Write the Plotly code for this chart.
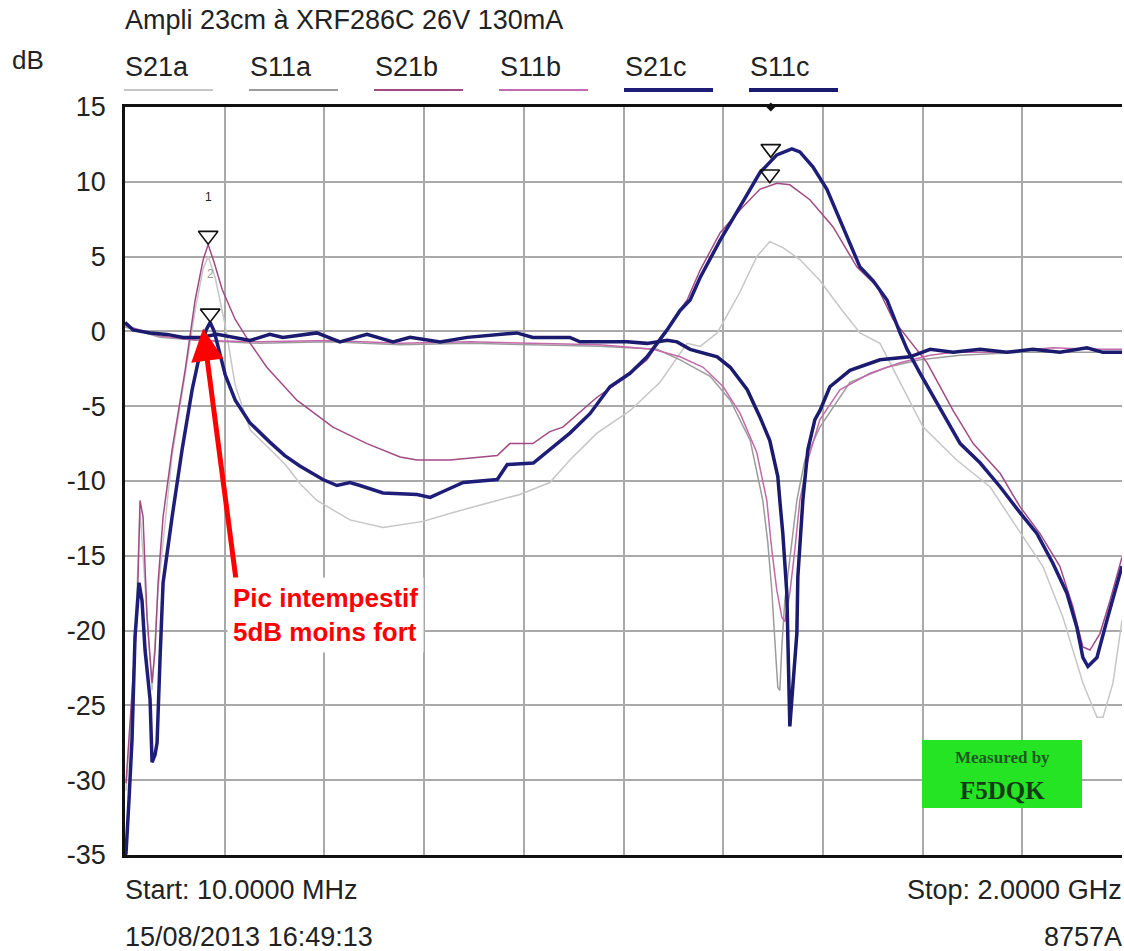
import plotly.graph_objects as go

# ---------------- data (frequency in MHz, level in dB) ----------------
freq_S21a = [12, 26, 40, 54, 64, 76, 104, 130, 150, 166, 176, 190, 210, 230, 260, 300, 330, 360, 393, 459, 525, 605, 665, 731, 798, 858, 898, 952, 1018, 1078, 1132, 1158, 1192, 1237, 1271, 1297, 1323, 1357, 1397, 1437, 1477, 1517, 1557, 1603, 1670, 1737, 1790, 1842, 1882, 1922, 1950, 1962, 1982, 2000]
db_S21a = [-30.7, -24.0, -12.0, -19.3, -24.0, -17.3, -8.3, -2.9, 1.4, 4.2, 5.0, 3.6, 0.4, -3.6, -6.6, -7.9, -8.9, -10.2, -11.3, -12.6, -13.1, -12.7, -12.1, -11.5, -10.9, -10.1, -8.6, -6.8, -5.3, -3.4, -0.8, -1.0, -0.1, 2.6, 5.0, 6.0, 5.6, 4.8, 3.4, 1.6, -0.1, -0.8, -3.4, -6.4, -8.6, -10.4, -13.1, -15.7, -19.1, -23.5, -25.8, -25.8, -23.5, -19.3]

freq_S11a = [10, 80, 160, 279, 419, 559, 699, 838, 958, 1072, 1118, 1178, 1218, 1258, 1283, 1293, 1301, 1307, 1313, 1317, 1321, 1327, 1337, 1351, 1367, 1397, 1457, 1531, 1597, 1677, 1796, 1916, 2000]
db_S11a = [0.3, -0.4, -0.6, -0.8, -0.7, -0.9, -0.8, -0.9, -1.0, -1.2, -1.9, -3.0, -4.6, -7.3, -11.3, -14.1, -17.3, -20.6, -23.8, -24.0, -21.1, -18.0, -15.3, -11.3, -8.6, -6.4, -3.4, -2.4, -1.9, -1.6, -1.4, -1.4, -1.4]

freq_S21b = [12, 20, 26, 34, 40, 46, 54, 64, 70, 76, 86, 104, 130, 150, 166, 176, 188, 204, 230, 260, 293, 353, 425, 493, 559, 593, 659, 753, 778, 824, 858, 884, 952, 1004, 1052, 1078, 1104, 1132, 1158, 1198, 1237, 1277, 1311, 1337, 1377, 1423, 1471, 1511, 1543, 1571, 1611, 1663, 1703, 1757, 1796, 1836, 1876, 1902, 1922, 1936, 1956, 1976, 2000]
db_S21b = [-30.2, -26.0, -23.5, -19.1, -11.3, -12.4, -19.1, -23.5, -21.3, -16.8, -12.4, -7.9, -2.6, 2.1, 4.8, 5.8, 4.6, 2.8, 0.8, -0.8, -2.4, -4.6, -6.4, -7.5, -8.4, -8.6, -8.6, -8.3, -7.5, -7.5, -6.7, -6.4, -4.4, -3.2, -1.9, -0.6, 0.8, 2.1, 4.1, 6.6, 8.1, 9.5, 9.9, 9.8, 8.8, 7.0, 4.3, 3.0, 0.8, -0.4, -2.1, -5.3, -7.5, -9.5, -11.7, -13.5, -15.7, -18.4, -21.1, -21.3, -20.2, -18.0, -15.1]

freq_S11b = [10, 80, 160, 279, 419, 559, 699, 838, 958, 1064, 1118, 1164, 1204, 1238, 1271, 1291, 1301, 1311, 1321, 1327, 1337, 1347, 1357, 1373, 1397, 1437, 1497, 1557, 1617, 1663, 1757, 1862, 1936, 2000]
db_S11b = [0.4, -0.3, -0.6, -0.7, -0.6, -0.8, -0.7, -0.8, -0.9, -1.2, -1.7, -2.4, -3.7, -5.5, -8.1, -11.3, -14.6, -17.3, -19.1, -19.4, -17.5, -14.6, -11.3, -8.6, -5.9, -3.9, -2.8, -2.1, -1.6, -1.4, -1.4, -1.1, -1.2, -1.2]

freq_S21c = [10, 12, 18, 24, 30, 38, 44, 50, 60, 64, 70, 74, 80, 86, 104, 124, 144, 160, 172, 180, 188, 200, 210, 230, 259, 299, 329, 359, 405, 433, 459, 479, 525, 593, 619, 645, 685, 753, 773, 825, 859, 898, 938, 978, 1018, 1052, 1072, 1092, 1118, 1138, 1158, 1198, 1237, 1277, 1311, 1341, 1357, 1383, 1411, 1443, 1477, 1503, 1531, 1557, 1571, 1597, 1637, 1677, 1717, 1757, 1796, 1830, 1862, 1890, 1910, 1922, 1932, 1950, 1970, 1990, 2000]
db_S21c = [-35.0, -34.9, -31.3, -27.3, -20.4, -16.8, -18.0, -21.3, -24.6, -28.8, -28.3, -27.5, -21.8, -16.8, -12.4, -7.9, -3.9, -1.4, 0.1, 0.6, 0.0, -1.6, -2.9, -4.6, -6.1, -7.4, -8.3, -9.0, -9.9, -10.3, -10.1, -10.3, -10.8, -10.9, -11.1, -10.7, -10.1, -9.9, -8.9, -8.8, -7.9, -6.8, -5.5, -3.7, -2.8, -1.7, -0.8, 0.1, 1.4, 2.1, 3.6, 6.1, 8.3, 10.6, 11.8, 12.2, 12.0, 11.0, 9.5, 7.0, 4.3, 3.4, 2.1, -0.1, -1.2, -2.8, -5.1, -7.5, -8.8, -10.4, -12.1, -13.5, -15.5, -17.5, -19.8, -21.8, -22.4, -21.8, -19.3, -16.8, -15.7]

freq_S11c = [10, 26, 60, 94, 126, 160, 194, 226, 260, 299, 325, 393, 439, 493, 545, 579, 639, 693, 792, 824, 898, 918, 1012, 1052, 1092, 1112, 1138, 1192, 1218, 1252, 1277, 1297, 1313, 1317, 1323, 1331, 1333, 1337, 1341, 1351, 1353, 1363, 1373, 1387, 1397, 1417, 1457, 1517, 1577, 1617, 1663, 1717, 1770, 1822, 1876, 1930, 1962, 2000]
db_S11c = [0.6, 0.1, -0.1, -0.2, -0.4, -0.4, -0.2, -0.4, -0.6, -0.2, -0.4, -0.1, -0.7, -0.2, -0.7, -0.4, -0.7, -0.4, -0.1, -0.4, -0.4, -0.7, -0.7, -0.8, -0.6, -0.7, -1.2, -1.7, -2.4, -3.9, -5.7, -7.3, -9.7, -11.3, -13.5, -17.5, -21.3, -26.4, -24.6, -20.2, -16.4, -11.3, -7.9, -5.9, -5.3, -3.7, -2.6, -1.9, -1.7, -1.2, -1.4, -1.2, -1.4, -1.2, -1.4, -1.1, -1.4, -1.4]

trace_names = ["S21a", "S11a", "S21b", "S11b", "S21c", "S11c"]
trace_freqs = [freq_S21a, freq_S11a, freq_S21b, freq_S11b, freq_S21c, freq_S11c]
trace_dbs = [db_S21a, db_S11a, db_S21b, db_S11b, db_S21c, db_S11c]

# y tick values and labels (instrument style, ASCII minus)
ytick_vals = [15, 10, 5, 0, -5, -10, -15, -20, -25, -30, -35]
ytick_text = ["15", "10", "5", "0", "-5", "-10", "-15", "-20", "-25", "-30", "-35"]

# markers (frequency MHz, level dB, label)
marker_freq = [176, 180, 1297, 1299]
marker_db = [5.8, 0.6, 9.9, 11.6]
marker_label = ["1", "2", "", ""]
offscale_marker_freq = [1299]   # small "+" flag drawn on the top border

title_text = "Ampli 23cm à XRF286C 26V 130mA"
start_text = "Start: 10.0000 MHz"
stop_text = "Stop: 2.0000 GHz"
date_text = "15/08/2013 16:49:13"
model_text = "8757A"
note_text = "Pic intempestif<br>5dB moins fort"
note_arrow_tip = (166, 0.2)
note_arrow_tail = (232, -16.7)
note_pos = (214, -18.95)

# ---------------- styles ----------------
colors = {"S21a": "#c6c6c6", "S11a": "#9c9c9c", "S21b": "#a24a86",
          "S11b": "#c46aaa", "S21c": "#1e1e78", "S11c": "#1a1a6e"}
widths = {"S21a": 1.5, "S11a": 1.5, "S21b": 1.5, "S11b": 1.5, "S21c": 3.5, "S11c": 3.5}

W, H = 1124, 951
L, R, T, B = 125, 1122, 107, 855
FONT = "Liberation Sans, Arial, sans-serif"
FS = 27


def px(xp):
    return (xp - L) / (R - L)


def py(yp):
    return (B - yp) / (B - T)


fig = go.Figure()
for name, fx, fy in zip(trace_names, trace_freqs, trace_dbs):
    fig.add_trace(go.Scatter(x=fx, y=fy, mode="lines", name=name,
                             line=dict(color=colors[name], width=widths[name]),
                             showlegend=False, hoverinfo="skip"))

# marker triangles: tip sitting on the trace point
tri_half_db = 9 / ((B - T) / 50.0)
fig.add_trace(go.Scatter(x=marker_freq, y=[v + tri_half_db for v in marker_db], mode="markers",
                         marker=dict(symbol="triangle-down-open", size=17, color="#111",
                                     line=dict(width=1.6, color="#111")),
                         showlegend=False, hoverinfo="skip", cliponaxis=False))
fig.add_trace(go.Scatter(x=offscale_marker_freq, y=[15] * len(offscale_marker_freq), mode="markers",
                         marker=dict(symbol="diamond", size=7, color="#111"),
                         showlegend=False, hoverinfo="skip", cliponaxis=False))

annotations = []
shapes = []

annotations.append(dict(text=title_text, x=px(123), y=py(20), xref="paper", yref="paper",
                        xanchor="left", yanchor="middle", showarrow=False,
                        font=dict(family=FONT, size=FS, color="#222")))
annotations.append(dict(text="dB", x=px(10), y=py(60), xref="paper", yref="paper",
                        xanchor="left", yanchor="middle", showarrow=False,
                        font=dict(family=FONT, size=FS - 1, color="#222")))

for i, name in enumerate(trace_names):
    x0 = 125 + 125 * i
    annotations.append(dict(text=name, x=px(x0 - 2), y=py(67), xref="paper", yref="paper",
                            xanchor="left", yanchor="middle", showarrow=False,
                            font=dict(family=FONT, size=FS, color="#222")))
    shapes.append(dict(type="line", xref="paper", yref="paper", x0=px(x0 - 1), x1=px(x0 + 88),
                       y0=py(90), y1=py(90),
                       line=dict(color=colors[name], width=4 if widths[name] > 2 else 2)))

for txt, xp, yp, anc in [(start_text, 123, 890, "left"), (date_text, 123, 937, "left"),
                         (stop_text, 1124, 890, "right"), (model_text, 1124, 937, "right")]:
    annotations.append(dict(text=txt, x=px(xp), y=py(yp), xref="paper", yref="paper",
                            xanchor=anc, yanchor="middle", showarrow=False,
                            font=dict(family=FONT, size=FS, color="#222")))

# marker numbers
for f, v, lab in zip(marker_freq, marker_db, marker_label):
    if lab:
        annotations.append(dict(text=lab, x=f, y=v, xref="x", yref="y", showarrow=False,
                                yshift=48, font=dict(family=FONT, size=12,
                                                     color="#222" if lab == "1" else "#999")))

# red note + arrow
annotations.append(dict(text="", x=note_arrow_tip[0], y=note_arrow_tip[1], xref="x", yref="y",
                        ax=note_arrow_tail[0], ay=note_arrow_tail[1], axref="x", ayref="y",
                        showarrow=True, arrowhead=2, arrowsize=1.3, arrowwidth=5,
                        arrowcolor="#ff0000", standoff=0))
annotations.append(dict(text="<b>" + note_text + "</b>", x=note_pos[0], y=note_pos[1],
                        xref="x", yref="y", xanchor="left", yanchor="middle", align="left",
                        showarrow=False, bgcolor="white", borderpad=5,
                        font=dict(family=FONT, size=26, color="#ff0000")))

# green badge
shapes.append(dict(type="rect", xref="paper", yref="paper", x0=px(922), x1=px(1082),
                   y0=py(808), y1=py(740), fillcolor="#24e424", line=dict(width=0), layer="above"))
annotations.append(dict(text="<b>Measured by</b>", x=px(1002), y=py(757), xref="paper", yref="paper",
                        xanchor="center", yanchor="middle", showarrow=False,
                        font=dict(family="Liberation Serif, serif", size=17, color="#1e5a1e")))
annotations.append(dict(text="<b>F5DQK</b>", x=px(1002), y=py(790), xref="paper", yref="paper",
                        xanchor="center", yanchor="middle", showarrow=False,
                        font=dict(family="Liberation Serif, serif", size=25, color="#143c14")))

fig.update_layout(
    width=W, height=H, autosize=False,
    margin=dict(l=L, r=W - R, t=T, b=H - B, pad=0),
    paper_bgcolor="white", plot_bgcolor="white",
    annotations=annotations, shapes=shapes,
    font=dict(family=FONT, size=FS, color="#222"),
    xaxis=dict(range=[10, 2000], tick0=10, dtick=199, showticklabels=False, ticks="",
               showgrid=True, gridcolor="#a9a9a9", gridwidth=1.5, zeroline=False,
               showline=True, linecolor="#111", linewidth=2.5, mirror=True),
    yaxis=dict(range=[-35, 15], tickmode="array", tickvals=ytick_vals, ticktext=ytick_text,
               ticks="", ticklabelstandoff=11,
               tickfont=dict(family=FONT, size=FS, color="#222"),
               showgrid=True, gridcolor="#a9a9a9", gridwidth=1.5, zeroline=False,
               showline=True, linecolor="#111", linewidth=2.5, mirror=False),
)

fig.write_html("out.html")
